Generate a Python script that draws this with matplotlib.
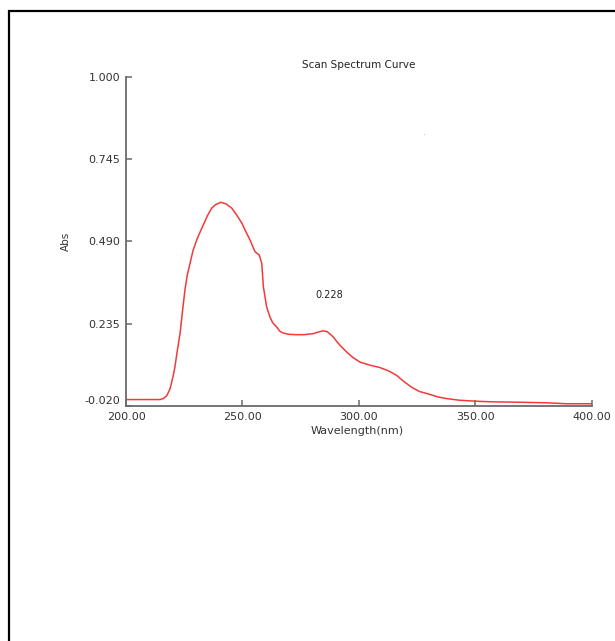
import numpy as np
import matplotlib.pyplot as plt
import matplotlib.transforms as mtransforms

# scan data
wavelength = [200, 213, 214.6, 216.0, 216.7, 217.5, 218.9, 219.5, 220.3, 221.0,
              222.0, 223.2, 224.2, 225.3, 226.3, 227.5, 228.8, 230.4, 232.0,
              233.2, 235.0, 236.8, 238.5, 240.7, 243.0, 245.4, 247.5, 249.7,
              251.5, 253.2, 255.4, 257.2, 258.3, 259.0, 260.4, 261.8, 263.0,
              264.7, 266.0, 267.5, 270.0, 273.3, 276.5, 280.4, 282.5, 284.7,
              286.5, 289.0, 290.5, 291.9, 294.8, 297.5, 300.5, 304.5, 309.1,
              313.0, 316.2, 319.5, 322.7, 326.0, 330.5, 334.0, 337.7, 343.0,
              349.8, 357.0, 366.3, 380.6, 389.2, 400]
absorb = [0.000, 0.000, 0.000, 0.003, 0.007, 0.012, 0.033, 0.050, 0.075, 0.101,
          0.150, 0.204, 0.270, 0.339, 0.385, 0.422, 0.462, 0.495, 0.522,
          0.541, 0.570, 0.593, 0.604, 0.611, 0.606, 0.593, 0.572, 0.547,
          0.520, 0.495, 0.458, 0.448, 0.422, 0.349, 0.287, 0.256, 0.238,
          0.225, 0.212, 0.206, 0.202, 0.201, 0.201, 0.204, 0.209, 0.213,
          0.210, 0.194, 0.180, 0.168, 0.147, 0.130, 0.116, 0.107, 0.099,
          0.088, 0.075, 0.055, 0.038, 0.025, 0.016, 0.008, 0.003, -0.002,
          -0.005, -0.007, -0.008, -0.010, -0.013, -0.013]
xticks = [200, 250, 300, 350, 400]
yticks = [-0.020, 0.235, 0.490, 0.745, 1.000]
peak_label = '0.228'
peak_pos = (287.2, 0.324)
stray = (328, 0.824)

fig = plt.figure(figsize=(6.15, 6.41), dpi=100)
# frame round the window
fig.add_artist(plt.Rectangle((9 / 615, -0.1), 1.2, (641 - 11) / 641 + 0.1,
                             transform=fig.transFigure, fill=False,
                             edgecolor='black', linewidth=1.6))
ax = fig.add_axes([0.2049, 0.3666, 0.7572, 0.5137])

ax.plot(wavelength, absorb, color='#f23a3a', linewidth=1.1)
ax.plot(*stray, marker='s', markersize=0.8, color='#ffb0b0',
        markeredgewidth=0, linestyle='none')
ax.text(peak_pos[0], peak_pos[1], peak_label, fontsize=7, color='#222222',
        ha='center', va='center')

ax.set_xlim(200, 400)
ax.set_ylim(-0.020, 1.000)
ax.set_xticks(xticks)
ax.set_xticklabels(['%.2f' % v for v in xticks])
ax.set_yticks(yticks)
ax.set_yticklabels(['%.3f' % v for v in yticks])

for s in ['top', 'right']:
    ax.spines[s].set_visible(False)
for s in ['left', 'bottom']:
    ax.spines[s].set_color('#6a6a6a')
    ax.spines[s].set_linewidth(1.3)
ax.tick_params(direction='in', length=4, width=1.1, color='#6a6a6a',
               labelsize=8, labelcolor='#333333', pad=4)

ax.set_title('Scan Spectrum Curve', fontsize=7.5, color='#222222', pad=6)
ax.set_xlabel('Wavelength(nm)', fontsize=8, color='#333333')
ax.set_ylabel('Abs', fontsize=7.5, color='#333333')
ax.xaxis.set_label_coords(0.496, -0.062)
ax.yaxis.set_label_coords(-0.118, 0.5)

# lowest y label sits a little above the axis line
lab = ax.get_yticklabels()[0]
lab.set_transform(lab.get_transform() +
                  mtransforms.ScaledTranslation(0, 6 / 100, fig.dpi_scale_trans))

fig.savefig('out.png', dpi=100)
